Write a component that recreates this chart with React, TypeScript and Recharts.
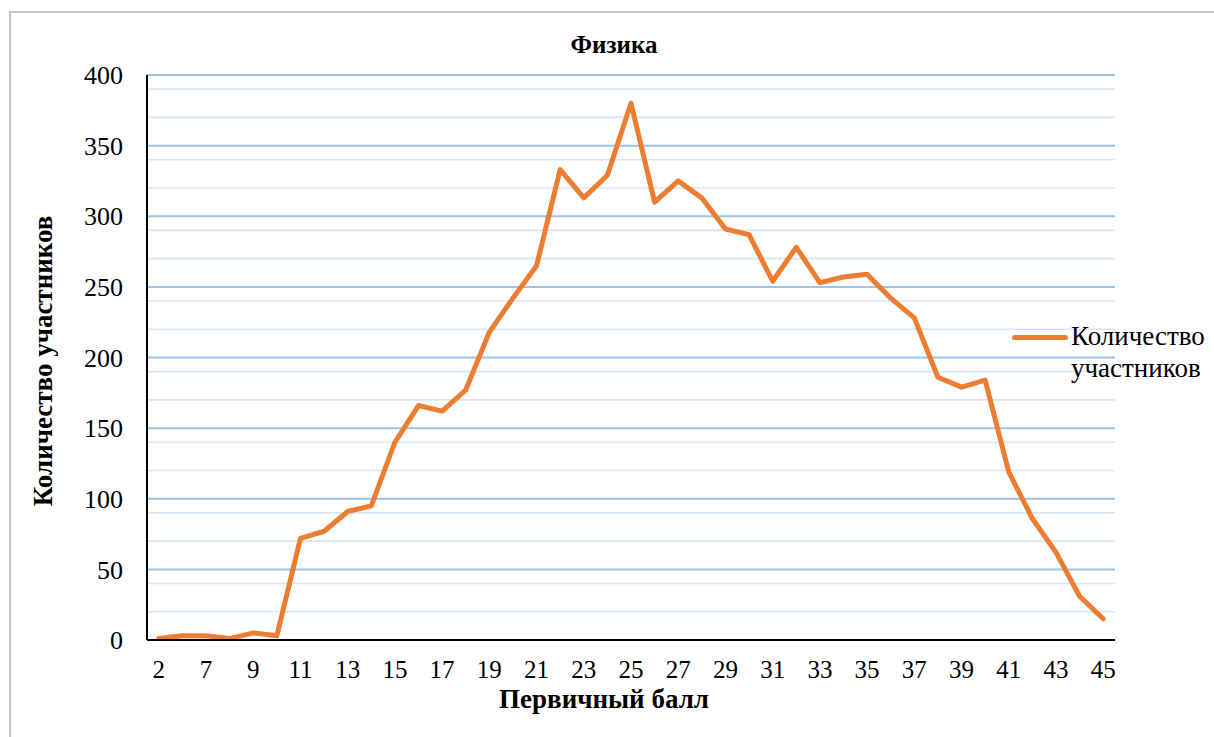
import { CartesianGrid, Line, LineChart, XAxis, YAxis } from "recharts";

// Первичный балл (вторая категория без подписи на оси)
const SCORES = ["2", "6", "7", "8", "9", "10", "11", "12", "13", "14", "15", "16", "17", "18", "19", "20", "21", "22", "23", "24", "25", "26", "27", "28", "29", "30", "31", "32", "33", "34", "35", "36", "37", "38", "39", "40", "41", "42", "43", "44", "45"];
// Количество участников
const COUNTS = [1, 3, 3, 1, 5, 3, 72, 77, 91, 95, 140, 166, 162, 177, 218, 242, 265, 333, 313, 329, 380, 310, 325, 313, 291, 287, 254, 278, 253, 257, 259, 242, 228, 186, 179, 184, 119, 86, 62, 31, 15];

const Y_TICKS = [0, 50, 100, 150, 200, 250, 300, 350, 400];
const MINOR_LINES = [10, 20, 30, 40, 60, 70, 80, 90, 110, 120, 130, 140, 160, 170, 180, 190, 210, 220, 230, 240, 260, 270, 280, 290, 310, 320, 330, 340, 360, 370, 380, 390];

const ORANGE = "#ED7D31";
const FONT = "Liberation Serif, Tinos, Times New Roman, Times, DejaVu Serif, serif";

const data = SCORES.map((score, i) => ({ score, count: COUNTS[i] }));

const App = () => {
  return (
    <div style={{ position: "absolute", left: 0, top: 0, width: 1214, height: 737, overflow: "hidden", background: "#fff", fontFamily: FONT }}>
      <div style={{ position: "absolute", left: 9, top: 11, width: 1220, height: 740, border: "2px solid #c6c6c6", boxSizing: "border-box" }} />

      <div style={{ position: "absolute", left: 0, width: 1228, top: 29, textAlign: "center", fontSize: 25, fontWeight: "bold", lineHeight: "32px" }}>
        Физика
      </div>

      <LineChart
        width={1214}
        height={737}
        data={data}
        margin={{ top: 75, right: 99, bottom: 57, left: 67 }}
        style={{ position: "absolute", left: 0, top: 0 }}
      >
        <CartesianGrid horizontalValues={MINOR_LINES} vertical={false} stroke="#dae5f3" strokeWidth={1.6} />
        <CartesianGrid horizontalValues={Y_TICKS} vertical={false} stroke="#9fc2e5" strokeWidth={2} />
        <XAxis
          dataKey="score"
          scale="band"
          interval={1}
          height={40}
          tickLine={false}
          tickSize={0}
          tickMargin={20}
          axisLine={{ stroke: "#000", strokeWidth: 2 }}
          tick={{ fontSize: 25, fill: "#000", fontFamily: FONT }}
        />
        <YAxis
          domain={[0, 400]}
          ticks={Y_TICKS}
          width={80}
          tickLine={false}
          tickSize={0}
          tickMargin={24}
          axisLine={{ stroke: "#000", strokeWidth: 2 }}
          tick={{ fontSize: 26, fill: "#000", fontFamily: FONT }}
        />
        <Line
          type="linear"
          dataKey="count"
          name="Количество участников"
          stroke={ORANGE}
          strokeWidth={5}
          strokeLinejoin="round"
          strokeLinecap="round"
          dot={false}
          isAnimationActive={false}
        />
      </LineChart>

      <div style={{ position: "absolute", left: 43, top: 361, transform: "translate(-50%, -50%) rotate(-90deg)", whiteSpace: "nowrap", fontSize: 27, fontWeight: "bold" }}>
        Количество участников
      </div>

      <div style={{ position: "absolute", left: 604, top: 699, transform: "translate(-50%, -50%)", whiteSpace: "nowrap", fontSize: 27, fontWeight: "bold", lineHeight: "24px" }}>
        Первичный балл
      </div>

      <div style={{ position: "absolute", left: 1012, top: 320, display: "flex", alignItems: "flex-start" }}>
        <div style={{ width: 56, height: 5, background: ORANGE, borderRadius: 3, marginTop: 15 }} />
        <div style={{ marginLeft: 3, fontSize: 27, lineHeight: "32px" }}>
          Количество
          <br />
          участников
        </div>
      </div>
    </div>
  );
};

export default App;
